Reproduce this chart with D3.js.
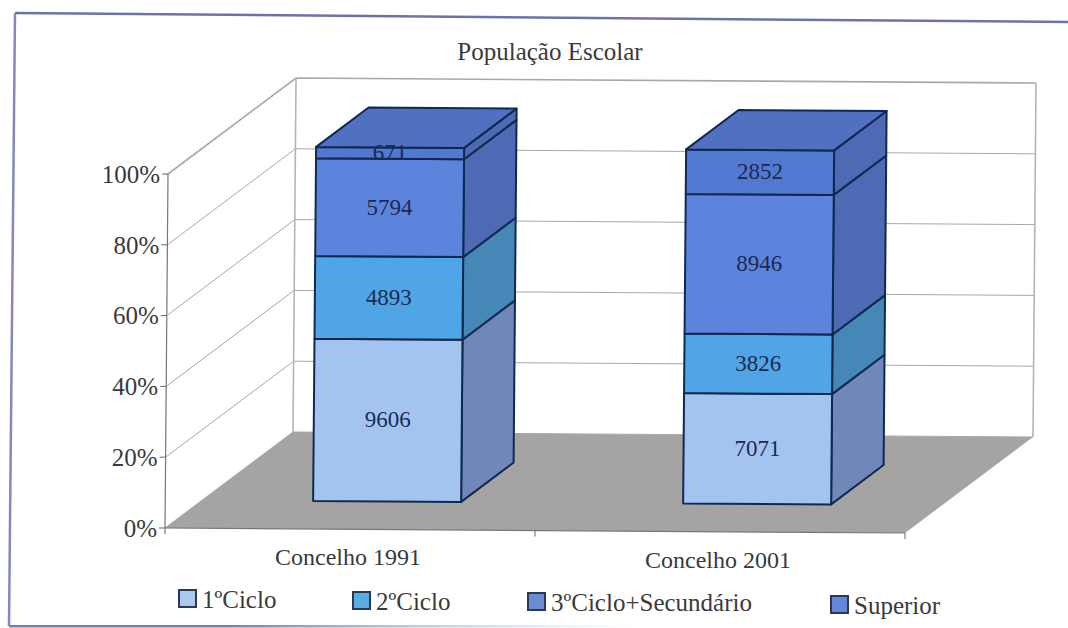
<!DOCTYPE html>
<html lang="en">
<head>
  <meta charset="UTF-8">
  <title>População Escolar</title>
  <script src="https://d3js.org/d3.v7.min.js"></script>
  <style>
    html, body { margin: 0; background: #fff; }
    svg { display: block; }
    text { font-family: 'Liberation Serif', serif; fill: #3a3a3a; }
    text.value { fill: #1c2a52; font-size: 23px; }
  </style>
</head>
<body>
<svg width="1068" height="628"></svg>
<script>
  const categories = ["Concelho 1991", "Concelho 2001"];
  const seriesNames = ["1ºCiclo", "2ºCiclo", "3ºCiclo+Secundário", "Superior"];
  const values1991 = [9606, 4893, 5794, 671];
  const values2001 = [7071, 3826, 8946, 2852];
  const percentTicks = [0, 0.2, 0.4, 0.6, 0.8, 1];

  const faceColors = ["#a3c4f1", "#4fa5e6", "#5c84dc", "#5279d2"];
  const sideColors = ["#7088b9", "#4587b6", "#4f6ab5", "#4f6ab5"];
  const legendColors = ["#a9c9f1", "#58ace8", "#6a8cd8", "#6488d8"];
  const topColor = "#5070c2";
  const edge = "#10294f";

  const svg = d3.select("svg");

  // category position across the floor, share up the wall, depth into the chart
  const xBand = d3.scaleBand().domain(categories).range([0, 1]).paddingInner(0.6).paddingOuter(0.3);
  const yShare = d3.scaleLinear().domain([0, 1]).range([0, 1]);
  const depth = d3.scaleLinear().domain([0, 1]).range([0, 1]);

  // the box is drawn oblique, all three axes as screen vectors from the front corner
  const origin = [165, 528], across = [740, 5], up = [3, -354], back = [128, -96];
  function project(u, v, w) {
    const a = u, b = yShare(v), c = depth(w);
    return [origin[0] + a * across[0] + b * up[0] + c * back[0],
            origin[1] + a * across[1] + b * up[1] + c * back[1]];
  }
  const line = d3.line();
  const barFront = 0.29, barBack = 0.70;

  // scanned page frame: no right edge, bottom line fades out
  const fade = svg.append("defs").append("linearGradient")
    .attr("id", "fade").attr("gradientUnits", "userSpaceOnUse")
    .attr("x1", 9).attr("y1", 0).attr("x2", 640).attr("y2", 0);
  fade.append("stop").attr("offset", "0.35").attr("stop-color", "#7a7fb4");
  fade.append("stop").attr("offset", "1").attr("stop-color", "#8fc4e8").attr("stop-opacity", 0);

  svg.append("path")
    .attr("d", line([[15, 13], [1068, 22]]))
    .attr("fill", "none").attr("stroke", "#6b72a8").attr("stroke-width", 2.5);
  svg.append("path")
    .attr("d", line([[15, 13], [9, 626]]))
    .attr("fill", "none").attr("stroke", "#8488bc").attr("stroke-width", 2.5);
  svg.append("rect")
    .attr("x", 9).attr("y", 625).attr("width", 631).attr("height", 2.5)
    .attr("fill", "url(#fade)");

  // floor
  svg.append("path")
    .attr("d", line([project(0,0,0), project(1,0,0), project(1,0,1), project(0,0,1)]) + "Z")
    .attr("fill", "#a6a4a2");

  // gridlines on side and back walls
  svg.selectAll(".grid").data(percentTicks).enter().append("path")
    .attr("class", "grid")
    .attr("d", d => line([project(0,d,0), project(0,d,1), project(1,d,1)]))
    .attr("fill", "none").attr("stroke", "#a8a8a8")
    .attr("stroke-width", d => d === 1 ? 1.6 : 1);
  svg.append("path")
    .attr("d", line([project(0,0,1), project(0,1,1)]))
    .attr("stroke", "#b4b4b4").attr("stroke-width", 1.6);
  svg.append("path")
    .attr("d", line([project(1,0,1), project(1,1,1)]))
    .attr("stroke", "#b4b4b4").attr("stroke-width", 1.6);

  // front axes
  svg.append("path")
    .attr("d", line([project(0,0,0), project(0,1,0)]))
    .attr("stroke", "#777").attr("stroke-width", 1.2);
  svg.append("path")
    .attr("d", line([project(0,0,0), project(1,0,0)]))
    .attr("stroke", "#777").attr("stroke-width", 1.2);

  const tickLen = 6;
  svg.selectAll(".ytick").data(percentTicks).enter().append("path")
    .attr("d", d => { const p = project(0,d,0); return line([[p[0] - tickLen, p[1]], p]); })
    .attr("stroke", "#666");
  [0, 0.5, 1].forEach(u => {
    const p = project(u,0,0);
    svg.append("path").attr("d", line([p, [p[0], p[1] + 6]])).attr("stroke", "#666");
  });

  svg.selectAll(".ylabel").data(percentTicks).enter().append("text")
    .attr("x", d => project(0,d,0)[0] - 8)
    .attr("y", d => project(0,d,0)[1])
    .attr("dy", "0.35em")
    .attr("text-anchor", "end")
    .attr("font-size", 25)
    .text(d3.format(".0%"));

  // stacked bars as shares of each category total
  const rows = categories.map((c, i) => {
    const row = { category: c };
    seriesNames.forEach((s, j) => { row[s] = (i === 0 ? values1991 : values2001)[j]; });
    return row;
  });
  const stacked = d3.stack().keys(seriesNames).offset(d3.stackOffsetExpand)(rows);

  categories.forEach((cat, ci) => {
    const u0 = xBand(cat), u1 = u0 + xBand.bandwidth();
    const g = svg.append("g");
    stacked.forEach((layer, si) => {
      const [v0, v1] = layer[ci];
      g.append("path")
        .attr("d", line([project(u1,v0,barFront), project(u1,v0,barBack), project(u1,v1,barBack), project(u1,v1,barFront)]) + "Z")
        .attr("fill", sideColors[si]).attr("stroke", edge).attr("stroke-width", 2).attr("stroke-linejoin", "round");
      g.append("path")
        .attr("d", line([project(u0,v0,barFront), project(u1,v0,barFront), project(u1,v1,barFront), project(u0,v1,barFront)]) + "Z")
        .attr("fill", faceColors[si]).attr("stroke", edge).attr("stroke-width", 2).attr("stroke-linejoin", "round");
    });
    g.append("path")
      .attr("d", line([project(u0,1,barFront), project(u1,1,barFront), project(u1,1,barBack), project(u0,1,barBack)]) + "Z")
      .attr("fill", topColor).attr("stroke", edge).attr("stroke-width", 2).attr("stroke-linejoin", "round");
    // value labels go last so the top face does not cut the thin 671 layer
    stacked.forEach(layer => {
      const [v0, v1] = layer[ci];
      const c = project((u0 + u1) / 2, (v0 + v1) / 2, barFront);
      g.append("text").attr("class", "value")
        .attr("x", c[0]).attr("y", c[1] - 1).attr("dy", "0.35em")
        .attr("text-anchor", "middle")
        .text(layer[ci].data[layer.key]);
    });
  });

  // category labels
  categories.forEach(cat => {
    const p = project(xBand(cat) + xBand.bandwidth() / 2, 0, 0);
    svg.append("text")
      .attr("x", p[0] - 2).attr("y", p[1] + 36)
      .attr("text-anchor", "middle").attr("font-size", 24)
      .text(cat);
  });

  svg.append("text").attr("x", 550).attr("y", 60)
    .attr("text-anchor", "middle").attr("font-size", 25)
    .text("População Escolar");

  // legend
  const legendX = [179, 353, 528, 831], legendY = [590, 592, 593, 596];
  seriesNames.forEach((s, i) => {
    svg.append("rect")
      .attr("x", legendX[i]).attr("y", legendY[i])
      .attr("width", 17).attr("height", 17)
      .attr("fill", legendColors[i]).attr("stroke", "#2b3a50").attr("stroke-width", 2);
    svg.append("text")
      .attr("x", legendX[i] + 23).attr("y", legendY[i] + 18)
      .attr("font-size", 25)
      .text(s);
  });
</script>
</body>
</html>
